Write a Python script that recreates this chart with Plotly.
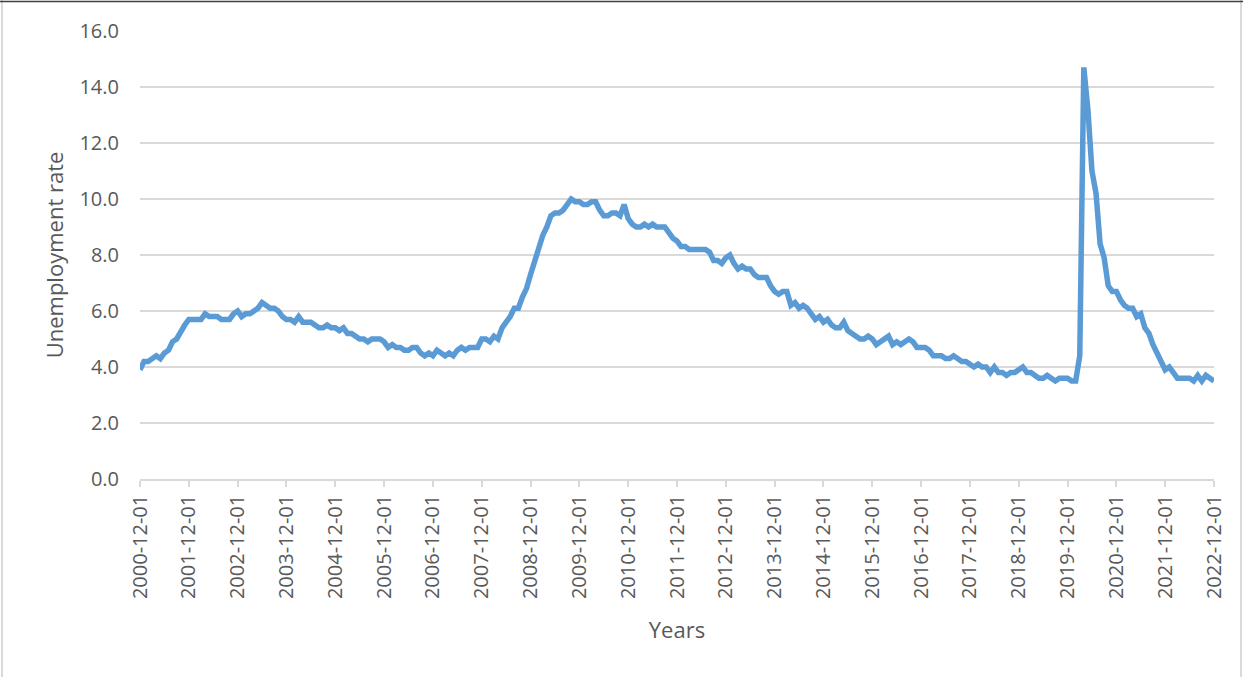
import pandas as pd
import plotly.graph_objects as go

# Monthly categories, December 2000 through December 2022
months = pd.date_range("2000-12-01", "2022-12-01", freq="MS").strftime("%Y-%m-%d").tolist()

# Unemployment rate (%), one value per month
rate_2000 = [3.9]
rate_2001 = [4.2, 4.2, 4.3, 4.4, 4.3, 4.5, 4.6, 4.9, 5.0, 5.3, 5.5, 5.7]
rate_2002 = [5.7, 5.7, 5.7, 5.9, 5.8, 5.8, 5.8, 5.7, 5.7, 5.7, 5.9, 6.0]
rate_2003 = [5.8, 5.9, 5.9, 6.0, 6.1, 6.3, 6.2, 6.1, 6.1, 6.0, 5.8, 5.7]
rate_2004 = [5.7, 5.6, 5.8, 5.6, 5.6, 5.6, 5.5, 5.4, 5.4, 5.5, 5.4, 5.4]
rate_2005 = [5.3, 5.4, 5.2, 5.2, 5.1, 5.0, 5.0, 4.9, 5.0, 5.0, 5.0, 4.9]
rate_2006 = [4.7, 4.8, 4.7, 4.7, 4.6, 4.6, 4.7, 4.7, 4.5, 4.4, 4.5, 4.4]
rate_2007 = [4.6, 4.5, 4.4, 4.5, 4.4, 4.6, 4.7, 4.6, 4.7, 4.7, 4.7, 5.0]
rate_2008 = [5.0, 4.9, 5.1, 5.0, 5.4, 5.6, 5.8, 6.1, 6.1, 6.5, 6.8, 7.3]
rate_2009 = [7.8, 8.3, 8.7, 9.0, 9.4, 9.5, 9.5, 9.6, 9.8, 10.0, 9.9, 9.9]
rate_2010 = [9.8, 9.8, 9.9, 9.9, 9.6, 9.4, 9.4, 9.5, 9.5, 9.4, 9.8, 9.3]
rate_2011 = [9.1, 9.0, 9.0, 9.1, 9.0, 9.1, 9.0, 9.0, 9.0, 8.8, 8.6, 8.5]
rate_2012 = [8.3, 8.3, 8.2, 8.2, 8.2, 8.2, 8.2, 8.1, 7.8, 7.8, 7.7, 7.9]
rate_2013 = [8.0, 7.7, 7.5, 7.6, 7.5, 7.5, 7.3, 7.2, 7.2, 7.2, 6.9, 6.7]
rate_2014 = [6.6, 6.7, 6.7, 6.2, 6.3, 6.1, 6.2, 6.1, 5.9, 5.7, 5.8, 5.6]
rate_2015 = [5.7, 5.5, 5.4, 5.4, 5.6, 5.3, 5.2, 5.1, 5.0, 5.0, 5.1, 5.0]
rate_2016 = [4.8, 4.9, 5.0, 5.1, 4.8, 4.9, 4.8, 4.9, 5.0, 4.9, 4.7, 4.7]
rate_2017 = [4.7, 4.6, 4.4, 4.4, 4.4, 4.3, 4.3, 4.4, 4.3, 4.2, 4.2, 4.1]
rate_2018 = [4.0, 4.1, 4.0, 4.0, 3.8, 4.0, 3.8, 3.8, 3.7, 3.8, 3.8, 3.9]
rate_2019 = [4.0, 3.8, 3.8, 3.7, 3.6, 3.6, 3.7, 3.6, 3.5, 3.6, 3.6, 3.6]
rate_2020 = [3.5, 3.5, 4.4, 14.7, 13.2, 11.0, 10.2, 8.4, 7.9, 6.9, 6.7, 6.7]
rate_2021 = [6.4, 6.2, 6.1, 6.1, 5.8, 5.9, 5.4, 5.2, 4.8, 4.5, 4.2, 3.9]
rate_2022 = [4.0, 3.8, 3.6, 3.6, 3.6, 3.6, 3.5, 3.7, 3.5, 3.7, 3.6, 3.5]

rates = (rate_2000 + rate_2001 + rate_2002 + rate_2003 + rate_2004 + rate_2005
         + rate_2006 + rate_2007 + rate_2008 + rate_2009 + rate_2010 + rate_2011
         + rate_2012 + rate_2013 + rate_2014 + rate_2015 + rate_2016 + rate_2017
         + rate_2018 + rate_2019 + rate_2020 + rate_2021 + rate_2022)

# Labelled categories: every December
tick_months = months[::12]
y_ticks = [0, 2, 4, 6, 8, 10, 12, 14, 16]

FONT = "Open Sans"
TEXT = "#595959"

fig = go.Figure()
fig.add_trace(go.Scatter(
    x=months, y=rates, mode="lines",
    line=dict(color="#5B9BD5", width=5.5, shape="linear"),
    hoverinfo="x+y", showlegend=False,
))

fig.update_layout(
    width=1243, height=677,
    margin=dict(l=140, r=29, t=31, b=198),
    paper_bgcolor="white", plot_bgcolor="white",
    font=dict(family=FONT, size=20, color=TEXT),
    xaxis=dict(
        type="category",
        categoryorder="array", categoryarray=months,
        range=[0, len(months) - 1],
        tickmode="array", tickvals=tick_months, ticktext=tick_months,
        tickangle=-90,
        ticks="outside", ticklen=6, tickcolor="#d9d9d9", tickwidth=1.5,
        showline=True, linecolor="#d9d9d9", linewidth=1.5,
        showgrid=False, zeroline=False,
        tickfont=dict(family=FONT, size=20, color=TEXT),
        title=dict(text="Years", font=dict(family=FONT, size=22, color=TEXT), standoff=24),
    ),
    yaxis=dict(
        range=[0, 16],
        tickmode="array", tickvals=y_ticks,
        tickformat=".1f",
        showgrid=True, gridcolor="#d9d9d9", gridwidth=1.5,
        showline=False, zeroline=False,
        ticks="", ticklabelstandoff=20,
        tickfont=dict(family=FONT, size=20, color=TEXT),
        title=dict(text="Unemployment rate", font=dict(family=FONT, size=22, color=TEXT), standoff=9),
    ),
)

# Chart frame: light side borders and a darker top edge
fig.add_shape(type="line", xref="paper", yref="paper",
              x0=-138 / 1074, x1=-138 / 1074, y0=-198 / 448, y1=31 / 448 + 1,
              line=dict(color="#d9d9d9", width=2))
fig.add_shape(type="line", xref="paper", yref="paper",
              x0=1 + 27 / 1074, x1=1 + 27 / 1074, y0=-198 / 448, y1=31 / 448 + 1,
              line=dict(color="#d9d9d9", width=2))
fig.add_shape(type="line", xref="paper", yref="paper",
              x0=-140 / 1074, x1=1 + 29 / 1074, y0=1 + 29.5 / 448, y1=1 + 29.5 / 448,
              line=dict(color="#404040", width=1.5))

fig.write_html("out.html")
